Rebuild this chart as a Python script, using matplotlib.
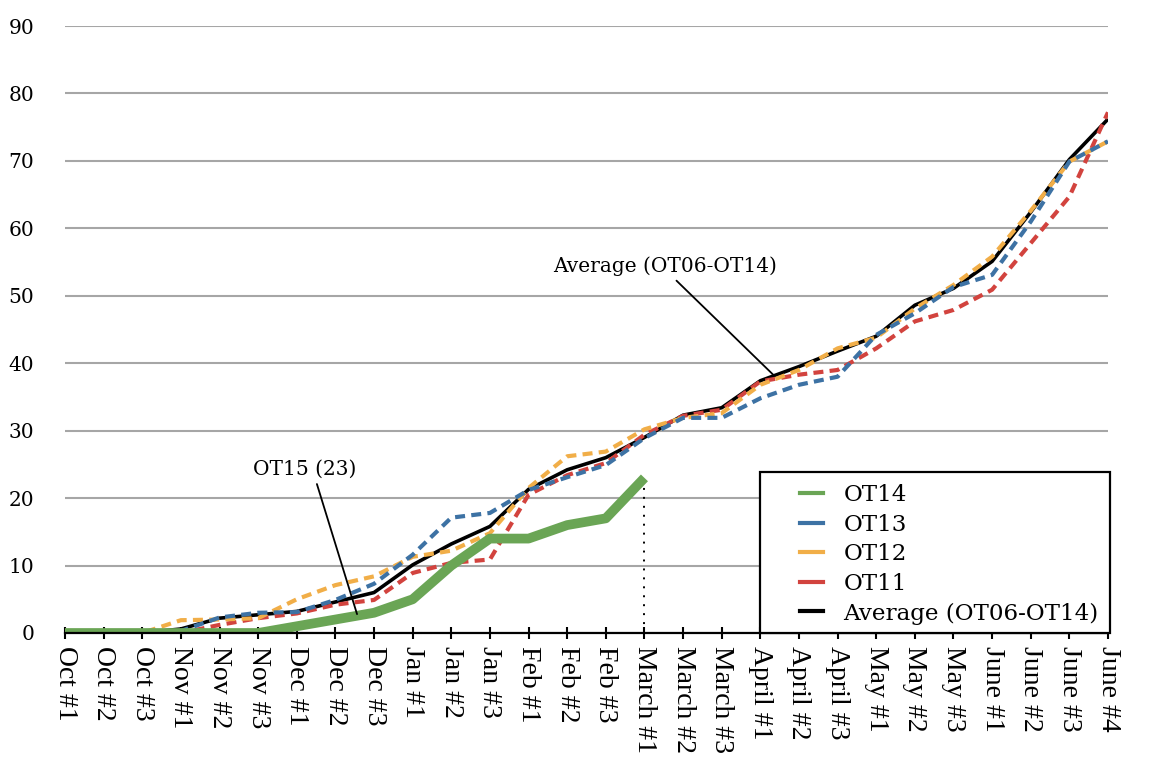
import matplotlib
matplotlib.use("Agg")
import matplotlib.pyplot as plt
from matplotlib.lines import Line2D
from matplotlib.patches import Rectangle

categories = ['Oct #1', 'Oct #2', 'Oct #3', 'Nov #1', 'Nov #2', 'Nov #3',
              'Dec #1', 'Dec #2', 'Dec #3', 'Jan #1', 'Jan #2', 'Jan #3',
              'Feb #1', 'Feb #2', 'Feb #3', 'March #1', 'March #2', 'March #3',
              'April #1', 'April #2', 'April #3', 'May #1', 'May #2', 'May #3',
              'June #1', 'June #2', 'June #3', 'June #4']

ot14 = [0, 0, 0, 0, 0, 0, 1, 2, 3, 5, 10, 14, 14, 16, 17, 23]
ot13 = [0, 0, 0, 0.3, 2.3, 3.0, 3.1, 4.9, 7.3, 11.6, 17.1, 17.8, 21.2, 23.1, 24.9,
        28.9, 31.9, 31.9, 34.8, 36.8, 38.0, 44.2, 47.4, 51.3, 53.1, 61.0, 69.9, 72.9]
ot12 = [0, 0, 0, 1.9, 2.0, 2.2, 5.0, 7.1, 8.4, 11.3, 12.2, 14.8, 21.5, 26.2, 26.9,
        30.2, 31.9, 32.6, 36.8, 39.0, 42.2, 43.8, 48.1, 51.6, 55.8, 62.6, 69.9, 72.9]
ot11 = [0, 0, 0, 0, 1.2, 2.2, 2.9, 4.2, 4.9, 8.9, 10.4, 10.9, 20.5, 23.4, 25.2,
        29.4, 32.2, 33.1, 37.3, 38.3, 39.0, 42.2, 46.2, 47.9, 50.9, 57.8, 64.7, 77.2]
average = [0, 0, 0, 0.6, 2.2, 2.7, 3.2, 4.6, 6.0, 10.1, 13.2, 15.8, 21.3, 24.2, 26.0,
           29.0, 32.3, 33.4, 37.4, 39.5, 41.8, 44.0, 48.6, 51.1, 55.1, 62.4, 70.2, 76.2]

yticks = [0, 10, 20, 30, 40, 50, 60, 70, 80, 90]

c_green = '#6aa555'
c_blue = '#3d72a4'
c_orange = '#f1ae48'
c_red = '#d2433e'

SERIF = 'DejaVu Serif'
TIMES = 'Liberation Serif'

W, H = 1160, 780
fig = plt.figure(figsize=(W / 100, H / 100), dpi=100)
ax = fig.add_axes([65 / W, 1 - 633 / H, (1108 - 65) / W, (633 - 26) / H])

x = list(range(len(categories)))

ax.yaxis.grid(True, color='#a6a6a6', linewidth=1.5, zorder=0)
ax.set_axisbelow(True)

ax.plot(x, average, color='black', linewidth=2.6, zorder=3, solid_capstyle='butt')
dash = (2.4, 1.5)
ax.plot(x, ot11, color=c_red, linewidth=3.0, dashes=dash, dash_capstyle='butt', zorder=4)
ax.plot(x, ot12, color=c_orange, linewidth=3.0, dashes=dash, dash_capstyle='butt', zorder=4)
ax.plot(x, ot13, color=c_blue, linewidth=3.0, dashes=dash, dash_capstyle='butt', zorder=4)
x14 = x[:len(ot14)]
ax.plot(x14, ot14, color=c_green, linewidth=7.0, zorder=5, solid_capstyle='butt')

# dotted drop line at last OT14 point
ax.vlines(x14[-1], 0, ot14[-1], colors='black', linewidth=1.4,
          linestyles=(0, (1, 3.6)), zorder=2)

ax.set_xlim(0, len(categories) - 1)
ax.set_ylim(0, 90)
ax.set_xticks(x)
ax.set_xticklabels(categories, rotation=-90, fontfamily=TIMES, fontsize=20)
ax.set_yticks(yticks)
ax.set_yticklabels([str(v) for v in yticks], fontfamily=SERIF, fontsize=14.5)

for s in ['left', 'right', 'top']:
    ax.spines[s].set_visible(False)
ax.spines['bottom'].set_linewidth(1.6)
ax.spines['bottom'].set_color('black')
ax.spines['bottom'].set_zorder(6)
ax.tick_params(axis='x', direction='inout', length=9, width=1.5, color='black', pad=5)
ax.tick_params(axis='y', length=0, pad=22)

# annotations
ax.annotate('Average (OT06-OT14)', xy=(18.35, 38.2), xytext=(15.53, 54.4),
            ha='center', va='center', fontfamily=SERIF, fontsize=14.5,
            arrowprops=dict(arrowstyle='-', color='black', lw=1.3,
                            relpos=(0.53, 0.0), shrinkA=2, shrinkB=0), zorder=7)
ax.annotate('OT15 (23)', xy=(7.56, 2.8), xytext=(6.21, 24.3),
            ha='center', va='center', fontfamily=SERIF, fontsize=14.5,
            arrowprops=dict(arrowstyle='-', color='black', lw=1.3,
                            relpos=(0.6, 0.0), shrinkA=2, shrinkB=0), zorder=7)

# legend frame
fig.add_artist(Rectangle((760 / W, 1 - 633 / H), 350 / W, 161 / H,
                         transform=fig.transFigure, facecolor='white',
                         edgecolor='black', linewidth=1.6, zorder=1))

handles = [Line2D([], [], color=c_green, lw=3),
           Line2D([], [], color=c_blue, lw=3),
           Line2D([], [], color=c_orange, lw=3),
           Line2D([], [], color=c_red, lw=3),
           Line2D([], [], color='black', lw=3)]
labels = ['OT14', 'OT13', 'OT12', 'OT11', 'Average (OT06-OT14)']
leg = fig.legend(handles, labels, loc='upper left',
                 bbox_to_anchor=(800 / W, 1 - 484 / H), frameon=False,
                 borderpad=0, borderaxespad=0, handlelength=1.0,
                 handletextpad=0.88, labelspacing=0.33,
                 prop={'family': SERIF, 'size': 16.6})
leg.set_zorder(2)

fig.savefig('out.png', dpi=100)
